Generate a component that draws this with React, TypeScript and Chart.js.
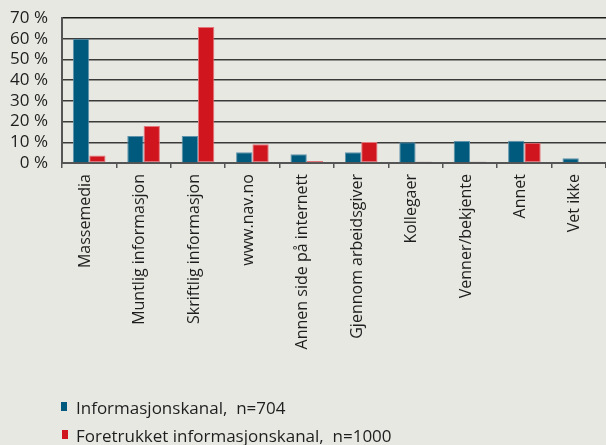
import React, { useEffect, useRef } from "react";
import { Chart, registerables } from "chart.js";

Chart.register(...registerables);

const categories = [
  "Massemedia",
  "Muntlig informasjon",
  "Skriftlig informasjon",
  "www.nav.no",
  "Annen side på internett",
  "Gjennom arbeidsgiver",
  "Kollegaer",
  "Venner/bekjente",
  "Annet",
  "Vet ikke",
];
const informasjonskanal = [60, 13, 13, 5.2, 4.2, 5.2, 10, 10.6, 10.7, 2.3];
const foretrukket = [3.6, 17.9, 65.7, 9, 1, 10.1, 0.6, 0.6, 9.8, 0];
const seriesNames = ["Informasjonskanal,  n=704", "Foretrukket informasjonskanal,  n=1000"];
const yMin = 0;
const yMax = 70;
const yStep = 10;

const BLUE = "#005a7d";
const RED = "#d0151f";
const BG = "#e8e8e3";
const FONT = "'Open Sans', sans-serif";

export default function App() {
  const ref = useRef<HTMLCanvasElement | null>(null);

  useEffect(() => {
    if (!ref.current) return;
    const chart = new Chart(ref.current, {
      type: "bar",
      data: {
        labels: categories,
        datasets: [
          {
            label: seriesNames[0],
            data: informasjonskanal,
            backgroundColor: BLUE,
            borderColor: "#5f93ab",
            borderWidth: 1,
            categoryPercentage: 0.6,
            barPercentage: 1,
          },
          {
            label: seriesNames[1],
            data: foretrukket,
            backgroundColor: RED,
            borderColor: (ctx: any) => {
              const v = ctx.raw as number;
              return v > 0 && v < 1 ? "#3a1a1a" : "#e2767b";
            },
            borderWidth: 1,
            borderSkipped: false,
            categoryPercentage: 0.6,
            barPercentage: 1,
          },
        ],
      },
      options: {
        animation: false,
        responsive: false,
        maintainAspectRatio: false,
        layout: { padding: { top: 18, left: 0, right: 0, bottom: 0 } },
        plugins: {
          legend: { display: false },
          tooltip: { enabled: false },
        },
        scales: {
          x: {
            offset: true,
            grid: {
              display: true,
              drawOnChartArea: false,
              drawTicks: true,
              tickLength: 5,
              color: "#555",
              lineWidth: 1.5,
              offset: true,
            },
            border: { display: true, color: "#555", width: 2 },
            ticks: {
              autoSkip: false,
              minRotation: 90,
              maxRotation: 90,
              padding: 6,
              labelOffset: -4,
              color: "#1e1e1e",
              font: { family: FONT, size: 16 },
            },
            afterFit: (s: any) => {
              s.height = 282;
              s.paddingLeft = 0;
              s.paddingRight = 0;
            },
          },
          y: {
            min: yMin,
            max: yMax,
            grid: {
              color: (ctx: any) => (ctx.tick && ctx.tick.value === yMax ? "#1a1a1a" : "#3a3a3a"),
              lineWidth: 1.5,
              drawTicks: false,
            },
            border: { display: true, color: "#555", width: 2 },
            ticks: {
              stepSize: yStep,
              autoSkip: false,
              padding: 14,
              color: "#1e1e1e",
              font: { family: FONT, size: 17 },
              callback: (v: any) => v + " %",
            },
            afterFit: (s: any) => {
              s.width = 62;
              s.paddingTop = 0;
              s.paddingBottom = 0;
            },
          },
        },
      },
    });
    return () => chart.destroy();
  }, []);

  const legendText: React.CSSProperties = {
    position: "absolute",
    left: 76,
    fontFamily: FONT,
    fontSize: 17,
    lineHeight: "20px",
    color: "#1e1e1e",
    whiteSpace: "pre",
  };

  return (
    <div
      style={{
        position: "absolute",
        left: 0,
        top: 0,
        width: 606,
        height: 445,
        background: BG,
        overflow: "hidden",
      }}
    >
      <canvas ref={ref} width={606} height={445} style={{ display: "block" }} />
      <div style={{ position: "absolute", left: 61, top: 402, width: 6, height: 9, background: BLUE }} />
      <div style={{ ...legendText, top: 398 }}>{seriesNames[0]}</div>
      <div style={{ position: "absolute", left: 62, top: 430, width: 6, height: 9, background: RED }} />
      <div style={{ ...legendText, top: 426 }}>{seriesNames[1]}</div>
    </div>
  );
}
